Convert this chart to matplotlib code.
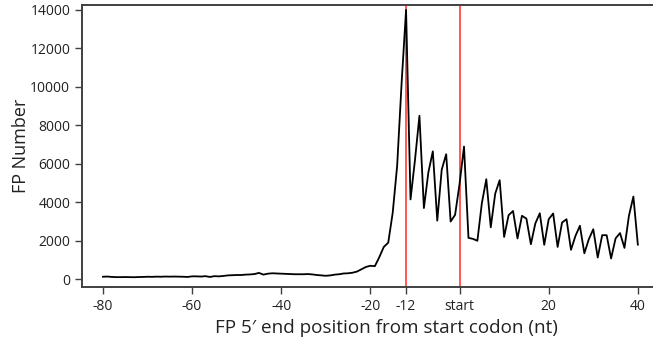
import numpy as np
import matplotlib
matplotlib.use("Agg")
import matplotlib.pyplot as plt

plt.rcParams['font.family'] = ['Open Sans', 'DejaVu Sans']

# FP counts by 5' end position, -80 .. 40
positions = list(range(-80, 41))
fp_counts = [
    130, 140, 120, 110, 110, 115, 110, 105, 115, 120,   # -80 .. -71
    130, 125, 135, 130, 140, 135, 140, 135, 130, 120,   # -70 .. -61
    150, 150, 140, 160, 120, 160, 150, 170, 200, 210,   # -60 .. -51
    220, 220, 240, 250, 270, 330, 240, 290, 310, 300,   # -50 .. -41
    290, 280, 270, 260, 260, 260, 270, 250, 220, 200,   # -40 .. -31
    180, 200, 240, 260, 300, 310, 340, 400, 520, 640,   # -30 .. -21
    700, 680, 1150, 1680, 1900, 3450, 5900, 10200, 14000, 4150,  # -20 .. -11
    6200, 8500, 3700, 5550, 6650, 3050, 5700, 6500, 3000, 3350,  # -10 .. -1
    4950, 6900, 2150, 2100, 2000, 3950, 5200, 2700, 4450, 5150,  # 0 .. 9
    2200, 3330, 3550, 2120, 3300, 3150, 1820, 2900, 3430, 1790,  # 10 .. 19
    3120, 3420, 1680, 2950, 3120, 1530, 2250, 2780, 1350, 2080,  # 20 .. 29
    2600, 1130, 2290, 2290, 1080, 2120, 2400, 1630, 3300, 4300,  # 30 .. 39
    1800,                                                        # 40
]

marked = [-12, 0]
xticks = [-80, -60, -40, -20, -12, 0, 20, 40]
xtick_labels = ['-80', '-60', '-40', '-20', '-12', 'start', '20', '40']
yticks = [0, 2000, 4000, 6000, 8000, 10000, 12000, 14000]

fig = plt.figure(figsize=(6.53, 3.42), dpi=100)
ax = fig.add_axes([0.1256, 0.161, 0.8744, 0.825])

for m in marked:
    ax.axvline(m, color='#ff2a2a', lw=1.1, zorder=1)
ax.plot(positions, fp_counts, color='black', lw=1.3, zorder=2)

ax.set_xlim(-84.7, 43.4)
ax.set_ylim(-400, 14270)
ax.set_xticks(xticks)
ax.set_xticklabels(xtick_labels)
ax.set_yticks(yticks)
ax.get_xticklabels()[4].set_color('#ff2a2a')

ax.spines['right'].set_visible(False)
for s in ['left', 'bottom', 'top']:
    ax.spines[s].set_color('#404040')
    ax.spines[s].set_linewidth(1.4)
ax.tick_params(direction='out', length=5, width=1, color='#404040',
               labelsize=10, labelcolor='#222222')

ax.set_xlabel("FP 5\u2032 end position from start codon (nt)", fontsize=13.6,
              color='#222222')
ax.xaxis.set_label_coords(0.534, -0.115)
ax.set_ylabel("FP Number", fontsize=13, color='#222222', labelpad=0)

fig.savefig('out.png', dpi=100)
